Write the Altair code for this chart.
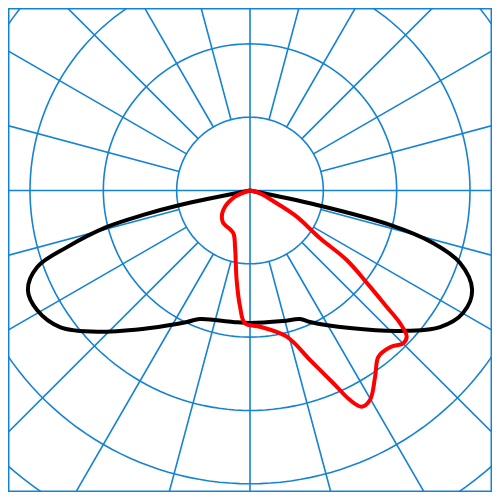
import altair as alt
import pandas as pd

# ---- grid definition (cd/klm rings, spokes every 15 deg) ----
RING_VALUES = [100, 200, 300, 400, 500]
SPOKE_ANGLES = list(range(0, 360, 15))

# ---- luminous intensity curves: gamma (deg from nadir), intensity ----
BLACK_GAMMA = [-90, -78.3, -77.1, -75.7, -72.8, -70.2, -65.9, -60.7, -54.3, -46.7,
               -36.0, -25.6, -21.3, -7.4, 0.0, 14.2, 21.3, 24.5, 36.0, 46.9,
               54.3, 60.1, 65.9, 71.0, 74.0, 76.2, 77.8, 90]
BLACK_I = [0, 97.5, 149.3, 201.3, 261.1, 308.6, 331.8, 333.0, 319.1, 280.9,
           231.8, 198.8, 188.1, 180.8, 180.7, 183.6, 188.1, 197.1, 231.8, 280.2,
           319.1, 335.1, 331.8, 302.7, 259.6, 196.6, 93.5, 0]

RED_GAMMA = [-70, -67.5, -53.9, -41.2, -21.3, -14.9, -8.5, -4.9, -2.2, 4.2,
             14.1, 19.5, 23.4, 25.5, 27.3, 29.8, 33.9, 37.7, 41.8, 45.1,
             47.0, 48.5, 49.6, 51.3, 54.3, 55.7, 60.7, 64.4, 74.4, 80]
RED_I = [0, 22.1, 45.1, 56.6, 62.6, 79.4, 123.4, 159.0, 181.2, 186.3,
         205.5, 245.2, 286.4, 316.5, 331.8, 329.2, 305.9, 286.4, 286.6, 295.2,
         292.2, 273.1, 244.6, 209.7, 162.4, 115.6, 73.0, 40.4, 14.2, 0]

PLANES = ["C0-C180", "C90-C270"]
PLANE_COLORS = ["#000000", "#ff0000"]
GRID_COLOR = "#1583d4"

# ---- tables built from the arrays ----
circle_df = pd.DataFrame(
    [{"ring": r, "a": a} for r in RING_VALUES for a in range(0, 361, 2)]
)
spoke_df = pd.DataFrame({
    "a": SPOKE_ANGLES,
    "r0": [0 if a % 90 == 0 else RING_VALUES[0] for a in SPOKE_ANGLES],
    "r1": [RING_VALUES[-1] * 2] * len(SPOKE_ANGLES),
})
curve_df = pd.concat([
    pd.DataFrame({"plane": PLANES[0], "gamma": BLACK_GAMMA, "I": BLACK_I,
                  "idx": range(len(BLACK_I))}),
    pd.DataFrame({"plane": PLANES[1], "gamma": RED_GAMMA, "I": RED_I,
                  "idx": range(len(RED_I))}),
], ignore_index=True)

W = 484
H = 484
XS = alt.Scale(domain=[-330.0, 330.0], nice=False, zero=False)
YS = alt.Scale(domain=[-411.2, 248.9], nice=False, zero=False)

circles = alt.Chart(circle_df).transform_calculate(
    x="datum.ring * sin(datum.a * PI / 180)",
    y="-datum.ring * cos(datum.a * PI / 180)",
).mark_line(color=GRID_COLOR, strokeWidth=1.6, clip=True).encode(
    x=alt.X("x:Q", scale=XS, axis=None),
    y=alt.Y("y:Q", scale=YS, axis=None),
    detail="ring:N",
    order="a:Q",
)

spokes = alt.Chart(spoke_df).transform_calculate(
    x="datum.r0 * sin(datum.a * PI / 180)",
    y="-datum.r0 * cos(datum.a * PI / 180)",
    x2="datum.r1 * sin(datum.a * PI / 180)",
    y2="-datum.r1 * cos(datum.a * PI / 180)",
).mark_rule(color=GRID_COLOR, strokeWidth=1.6, clip=True).encode(
    x=alt.X("x:Q", scale=XS, axis=None),
    y=alt.Y("y:Q", scale=YS, axis=None),
    x2="x2:Q",
    y2="y2:Q",
)

curves = alt.Chart(curve_df).transform_calculate(
    x="datum.I * sin(datum.gamma * PI / 180)",
    y="-datum.I * cos(datum.gamma * PI / 180)",
).mark_line(strokeWidth=4, interpolate="catmull-rom", strokeCap="round",
            strokeJoin="round", clip=True).encode(
    x=alt.X("x:Q", scale=XS, axis=None),
    y=alt.Y("y:Q", scale=YS, axis=None),
    color=alt.Color("plane:N", scale=alt.Scale(domain=PLANES, range=PLANE_COLORS),
                    legend=None),
    detail="plane:N",
    order="idx:Q",
)

chart = alt.layer(circles, spokes, curves).properties(
    width=W, height=H, padding=0,
    autosize=alt.AutoSizeParams(type="none"),
).configure_view(stroke=GRID_COLOR, strokeWidth=3)

chart.save("out.html", embed_options={"renderer": "svg", "actions": False})
